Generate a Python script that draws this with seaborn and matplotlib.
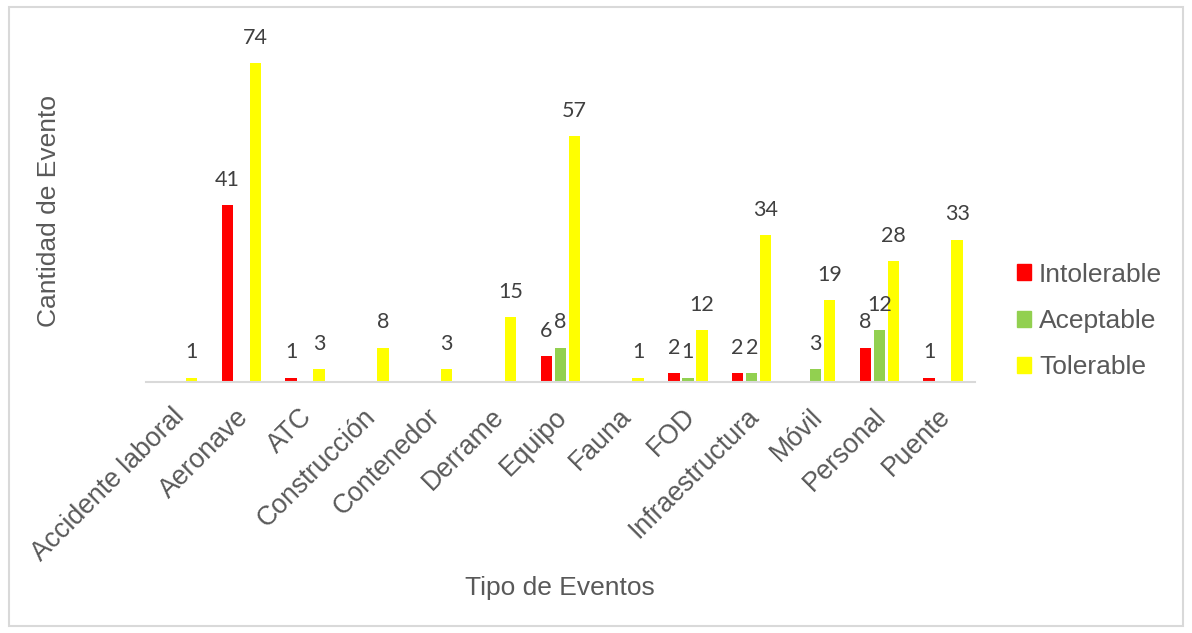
import matplotlib
matplotlib.use("Agg")
import matplotlib.pyplot as plt
import matplotlib.patches as mpatches
import matplotlib.transforms as mtransforms
import seaborn as sns
import pandas as pd

categorias = ["Accidente laboral", "Aeronave", "ATC", "Construcción", "Contenedor",
              "Derrame", "Equipo", "Fauna", "FOD", "Infraestructura", "Móvil",
              "Personal", "Puente"]
intolerable = [0, 41, 1, 0, 0, 0, 6, 0, 2, 2, 0, 8, 1]
aceptable = [0, 0, 0, 0, 0, 0, 8, 0, 1, 2, 3, 12, 0]
tolerable = [1, 74, 3, 8, 3, 15, 57, 1, 12, 34, 19, 28, 33]
series = ["Intolerable", "Aceptable", "Tolerable"]
colores = ["#FF0000", "#92D050", "#FFFF00"]

rows = []
for nivel, vals in zip(series, [intolerable, aceptable, tolerable]):
    for c, v in zip(categorias, vals):
        rows.append({"Tipo": c, "Cantidad": v, "Nivel": nivel})
df = pd.DataFrame(rows)

sns.set_theme(style="white")
plt.rcParams["font.family"] = ["Liberation Sans", "DejaVu Sans"]

W, H = 1192, 633
fig = plt.figure(figsize=(W / 100, H / 100), dpi=100)
left, right, bottom, top = 145.6, 975.0, 382.0, 30.0
ax = fig.add_axes([left / W, (H - bottom) / H, (right - left) / W, (bottom - top) / H])

sns.barplot(data=df, x="Tipo", y="Cantidad", hue="Nivel", hue_order=series,
            order=categorias, palette=colores, width=0.66, gap=0.18,
            linewidth=0, saturation=1, ax=ax, legend=False)

ax.set_ylim(0, (bottom - top) / 4.31)
ax.set_xlim(-0.5, len(categorias) - 0.5)
ax.set_yticks([])
for s in ["top", "right", "left"]:
    ax.spines[s].set_visible(False)
ax.spines["bottom"].set_color("#D9D9D9")
ax.spines["bottom"].set_linewidth(1.5)

for cont, vals in zip(ax.containers, [intolerable, aceptable, tolerable]):
    labs = [str(v) if v != 0 else "" for v in vals]
    ax.bar_label(cont, labels=labs, padding=11, fontsize=15.5,
                 color="#404040", family=["Lato", "DejaVu Sans"])

ax.tick_params(axis="x", length=0, pad=12, labelsize=19.2, labelcolor="#595959")
offset = mtransforms.ScaledTranslation(-6 / 100, -5 / 100, fig.dpi_scale_trans)
for lab in ax.get_xticklabels():
    lab.set_rotation(45)
    lab.set_ha("right")
    lab.set_va("top")
    lab.set_rotation_mode("anchor")
    lab.set_transform(lab.get_transform() + offset)

ax.set_xlabel("Tipo de Eventos", fontsize=19, color="#595959")
ax.xaxis.set_label_coords(0.5, -0.585)
ax.xaxis.label.set_va("center")
ax.set_ylabel("Cantidad de Evento", fontsize=19, color="#595959")
ax.yaxis.set_label_coords(-0.117, 0.487)
ax.yaxis.label.set_va("center")

handles = [mpatches.Patch(color=c, label=s) for c, s in zip(colores, series)]
leg = fig.legend(handles=handles, loc="center left",
                 bbox_to_anchor=(1006 / W, (H - 321) / H), frameon=False,
                 fontsize=19, handlelength=0.55, handleheight=0.55,
                 handletextpad=0.3, labelspacing=0.85, borderaxespad=0)
for t in leg.get_texts():
    t.set_color("#595959")

fig.patches.append(mpatches.Rectangle((9 / W, 7 / H), (1183 - 9) / W, (626 - 7) / H,
                                      transform=fig.transFigure, fill=False,
                                      edgecolor="#D9D9D9", linewidth=1.5))

fig.savefig("out.png", dpi=100)
